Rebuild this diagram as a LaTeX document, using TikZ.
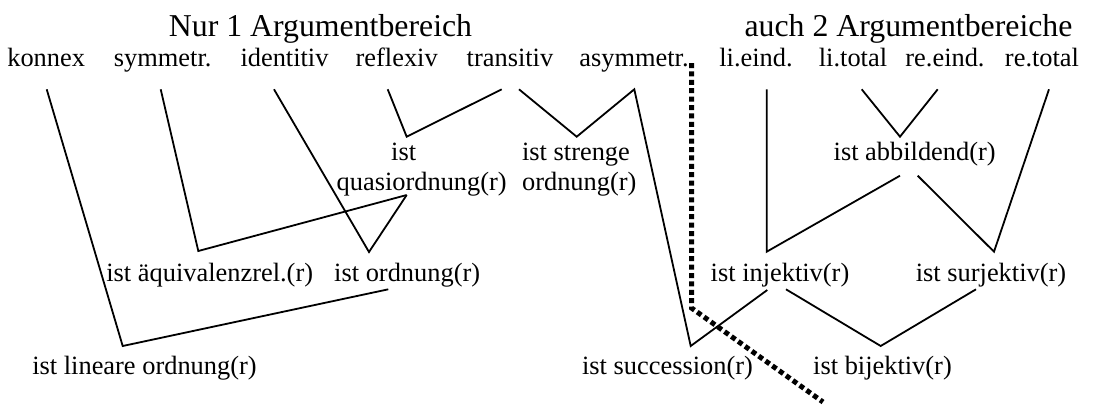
\documentclass[tikz,border=0pt]{standalone}
\usepackage{fontspec}
\setmainfont{Liberation Serif}
\begin{document}
\begin{tikzpicture}[x=0.5pt,y=-0.5pt,
  lbl/.style={font=\fontsize{13.2pt}{15pt}\selectfont, inner sep=0pt, anchor=base},
  head/.style={font=\fontsize{15.9pt}{18pt}\selectfont, inner sep=0pt, anchor=base},
  conn/.style={line width=0.9pt, line join=miter},
  sepline/.style={line width=2.5pt, dash pattern=on 2.5pt off 1.7pt}]
\useasboundingbox (0,0) rectangle (1105,404);
% headings
\node[head] (h1) at (320.5,36) {Nur 1 Argumentbereich};
\node[head] (h2) at (908.5,36) {auch 2 Argumentbereiche};
% top row
\node[lbl] (konnex)    at (46.2,66.7)  {konnex};
\node[lbl] (symmetr)   at (162.7,66.7) {symmetr.};
\node[lbl] (identitiv) at (284.5,66.7) {identitiv};
\node[lbl] (reflexiv)  at (396.7,66.7) {reflexiv};
\node[lbl] (transitiv) at (510,66.7)   {transitiv};
\node[lbl] (asymmetr)  at (634,66.7)   {asymmetr.};
\node[lbl] (lieind)    at (756,66.7)   {li.eind.};
\node[lbl] (litotal)   at (853,66.7)   {li.total};
\node[lbl] (reeind)    at (945,66.7)   {re.eind.};
\node[lbl] (retotal)   at (1042,66.7)  {re.total};
% second level
\node[lbl] (qist)    at (403.7,160) {ist};
\node[lbl] (quasi)   at (421.7,190) {quasiordnung(r)};
\node[lbl, anchor=base west] (strenge)  at (521.7,160) {ist strenge};
\node[lbl, anchor=base west] (strenge2) at (521.7,190) {ordnung(r)};
\node[lbl] (abbild)  at (914.7,160) {ist abbildend(r)};
% third level
\node[lbl] (aequiv)  at (209.7,281.7) {ist äquivalenzrel.(r)};
\node[lbl] (ordnung) at (407.2,281.7) {ist ordnung(r)};
\node[lbl] (inj)     at (780,281.7)   {ist injektiv(r)};
\node[lbl] (surj)    at (991,281.7)   {ist surjektiv(r)};
% fourth level
\node[lbl] (linear)  at (144.5,374) {ist lineare ordnung(r)};
\node[lbl] (succ)    at (667.5,374) {ist succession(r)};
\node[lbl] (bij)     at (882.5,374) {ist bijektiv(r)};
% connectors
\draw[conn] ([shift={(0.5,22.6)}]konnex.base) -- ([shift={(-21.8,-28)}]linear.base) -- ([shift={(-18.9,7.6)}]ordnung.base);
\draw[conn] ([shift={(-2,22.6)}]symmetr.base) -- ([shift={(-11.4,-30.7)}]aequiv.base) -- ([shift={(-15,5)}]quasi.base);
\draw[conn] ([shift={(-10.5,22.6)}]identitiv.base) -- ([shift={(-38.2,-29.7)}]ordnung.base) -- ([shift={(-15,5)}]quasi.base);
\draw[conn] ([shift={(-9,22.6)}]reflexiv.base) -- ([shift={(3,-23.3)}]qist.base) -- ([shift={(-8.3,22.6)}]transitiv.base);
\draw[conn] ([shift={(9,22.6)}]transitiv.base) -- ([shift={(55,-23.3)}]strenge.base west) -- ([shift={(0.3,22.6)}]asymmetr.base) -- ([shift={(23.2,-28)}]succ.base) -- ([shift={(-12.7,8.3)}]inj.base);
\draw[conn] ([shift={(10.7,22.6)}]lieind.base) -- ([shift={(-13.3,-30)}]inj.base) -- ([shift={(-14.7,15.7)}]abbild.base);
\draw[conn] ([shift={(8.7,22.6)}]litotal.base) -- ([shift={(-14.7,-23.3)}]abbild.base) -- ([shift={(-7.3,22.6)}]reeind.base);
\draw[conn] ([shift={(3,15.7)}]abbild.base) -- ([shift={(3,-30)}]surj.base) -- ([shift={(7,22.6)}]retotal.base);
\draw[conn] ([shift={(6,7.6)}]inj.base) -- ([shift={(-1.8,-28)}]bij.base) -- ([shift={(-15,7.6)}]surj.base);
% separator
\coordinate (s1) at (691.5,63);
\coordinate (s2) at (691.5,308);
\coordinate (s3) at (823,402);
\draw[sepline] (s1) -- (s2) -- (s3);
\end{tikzpicture}
\end{document}
